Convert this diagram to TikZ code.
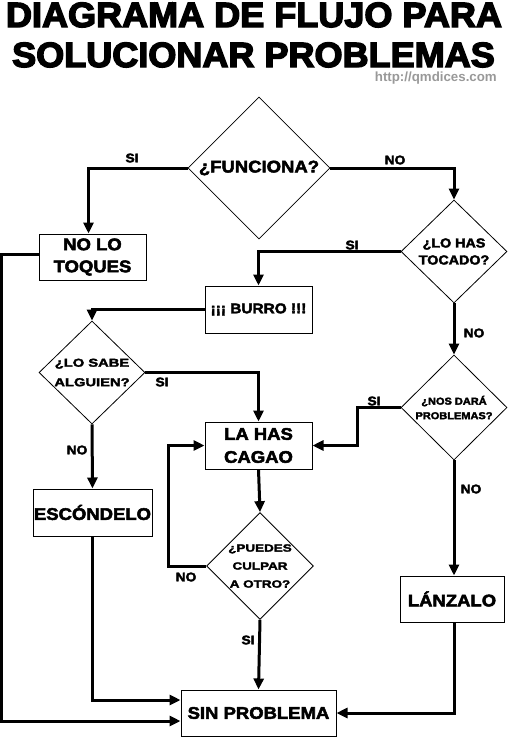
\documentclass[tikz,border=0pt]{standalone}
\usepackage{fontspec}
\usetikzlibrary{arrows.meta,shapes.geometric}
\newfontfamily\fTitle{Liberation Sans Bold}[FakeBold=4,FakeStretch=1.03]
\newfontfamily\fBody{Liberation Sans Bold}[FakeBold=3,FakeStretch=1.1]
\newfontfamily\fWide{Liberation Sans Bold}[FakeBold=2.5,FakeStretch=1.28]
\newfontfamily\fUrl{Liberation Sans Bold}
\tikzset{
  conn/.style={line width=3pt,-{Triangle[length=11pt,width=10pt]}},
  box/.style={draw,line width=1pt,rectangle,inner sep=0pt,align=center},
  dia/.style={draw,diamond,line width=0.8pt,inner sep=0pt,align=center},
  lab/.style={font=\fBody\fontsize{12.5}{14}\selectfont,inner sep=0pt},
  big/.style={font=\fBody\fontsize{16.8}{22}\selectfont}
}
\begin{document}
\begin{tikzpicture}[x=1pt,y=-1pt]
\useasboundingbox (0,0) rectangle (507,737);
% title
\node[anchor=base,inner sep=0pt,font=\fTitle\fontsize{35}{40}\selectfont] (t1) at (254,27) {DIAGRAMA DE FLUJO PARA};
\node[anchor=base,inner sep=0pt,font=\fTitle\fontsize{35}{40}\selectfont] (t2) at (253.5,67) {SOLUCIONAR PROBLEMAS};
\node[anchor=base east,inner sep=0pt,text=black!40,font=\fUrl\fontsize{13.3}{15}\selectfont] (url) at (497,81.5) {http://qmdices.com};
% decisions
\node[dia,minimum width=142pt,minimum height=142pt,big] (d1) at (259,168) {¿FUNCIONA?};
\node[dia,minimum width=106pt,minimum height=103pt,font=\fBody\fontsize{13}{17}\selectfont] (d2) at (454,251.5) {¿LO HAS\\TOCADO?};
\node[dia,minimum width=106pt,minimum height=103pt,font=\fWide\fontsize{11.5}{19.5}\selectfont] (d3) at (92,372.5) {¿LO SABE\\ALGUIEN?};
\node[dia,minimum width=106pt,minimum height=105pt,font=\fBody\fontsize{10}{14.5}\selectfont] (d5) at (454,407.5) {¿NOS DARÁ\\PROBLEMAS?};
\node[dia,minimum width=106pt,minimum height=104pt,font=\fWide\fontsize{10.5}{18}\selectfont] (d4) at (260,566) {¿PUEDES\\CULPAR\\A OTRO?};
% boxes
\node[box,big,minimum width=107pt,minimum height=46pt] (nolo) at (92.5,257) {NO LO\\TOQUES};
\node[box,font=\fBody\fontsize{14}{18}\selectfont,minimum width=107pt,minimum height=47pt] (burro) at (258.5,309.5) {¡¡¡ BURRO !!!};
\node[box,big,minimum width=119pt,minimum height=47pt] (esc) at (92.5,512.5) {ESCÓNDELO};
\node[box,font=\fBody\fontsize{16.8}{23}\selectfont,minimum width=107pt,minimum height=47pt] (cagao) at (258.5,445.5) {LA HAS\\CAGAO};
\node[box,big,minimum width=104pt,minimum height=46pt] (lanz) at (452,599) {LÁNZALO};
\node[box,big,minimum width=155pt,minimum height=46pt] (sin) at (258.5,713) {SIN PROBLEMA};
% connectors
\draw[conn] (d1.west) -| ([xshift=-4pt]nolo.north);
\draw[conn] (d1.east) -| (d2.north);
\draw[conn] (d2.west) -| (burro.north);
\draw[conn] (d2.south) -- (d5.north);
\draw[conn] (burro.west) -| (d3.north);
\draw[conn] (d3.east) -| (cagao.north);
\draw[conn] (d3.south) -- (esc.north);
\draw[conn] (d5.west) -- ++(-43,0) |- (cagao.east);
\draw[conn] (d5.south) -- (d5.south |- lanz.north);
\draw[conn] (cagao.south) -- (d4.north);
\draw[conn] (d4.west) -- ++(-38,0) |- (cagao.west);
\draw[conn] (d4.south) -- (sin.north);
\draw[conn] ([xshift=2pt]lanz.south) |- (sin.east);
\draw[conn] (esc.south) |- ([yshift=13pt]sin.west);
\draw[conn] ([yshift=3pt]nolo.west) -- ++(-37,0) |- ([yshift=-8pt]sin.west);
% labels
\node[lab] (l1) at (132,158) {SI};
\node[lab] (l2) at (395,160) {NO};
\node[lab] (l3) at (352,245) {SI};
\node[lab] (l4) at (474,333) {NO};
\node[lab] (l5) at (374,401) {SI};
\node[lab] (l6) at (471,489) {NO};
\node[lab] (l7) at (162,382) {SI};
\node[lab] (l8) at (77,450) {NO};
\node[lab] (l9) at (186,577) {NO};
\node[lab] (l10) at (248,640) {SI};
\end{tikzpicture}
\end{document}
